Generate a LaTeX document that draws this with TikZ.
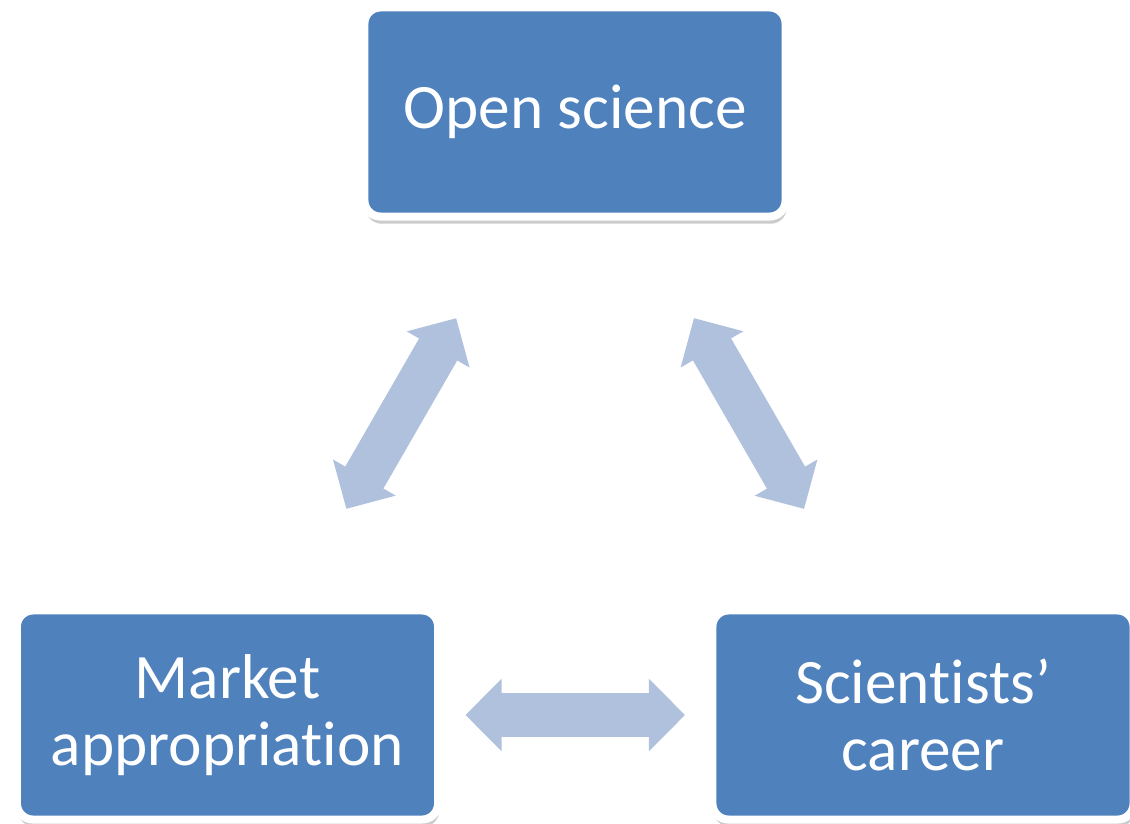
\documentclass[tikz,border=0pt]{standalone}
\usepackage{fontspec}
\setmainfont{Carlito}[Ligatures={TeX,NoCommon}]
\usepackage{xcolor,tikz}
\usetikzlibrary{arrows.meta}
\usetikzlibrary{shadows}
\definecolor{boxblue}{HTML}{4F81BD}
\definecolor{arrowblue}{HTML}{B0C1DD}
\tikzset{
  topic/.style={rectangle, rounded corners=0.4cm, fill=boxblue, draw=white,
    line width=0.2cm, minimum width=10.525cm, minimum height=5.225cm,
    text=white, align=center, font=\fontsize{45}{48}\selectfont,
    drop shadow={shadow xshift=0.03cm, shadow yshift=-0.18cm, fill=black!20, opacity=1}},
  link/.style={draw=arrowblue, line width=1.1cm,
    {Triangle[length=0.9cm, width=1.8cm, line width=1.5pt]}-{Triangle[length=0.9cm, width=1.8cm, line width=1.5pt]},
    shorten <=5.95cm, shorten >=5.95cm}
}

\begin{document}
\begin{tikzpicture}[x=0.025cm, y=-0.025cm]
          \useasboundingbox[fill=white] (0,0) rectangle (1130,823);
          % the three topics
          \node[topic] (open) at (575,112) {Open science};
          \node[topic] (market) at (227.5,715) {Market\\appropriation};
          \node[topic] (career) at (923,715) {Scientists’\\career};
          % two-way links
          \draw[link] (market.center) -- (open.center);
          \draw[link] (career.center) -- (open.center);
          \draw[link] (market.center) -- (career.center);
        \end{tikzpicture}
\end{document}
